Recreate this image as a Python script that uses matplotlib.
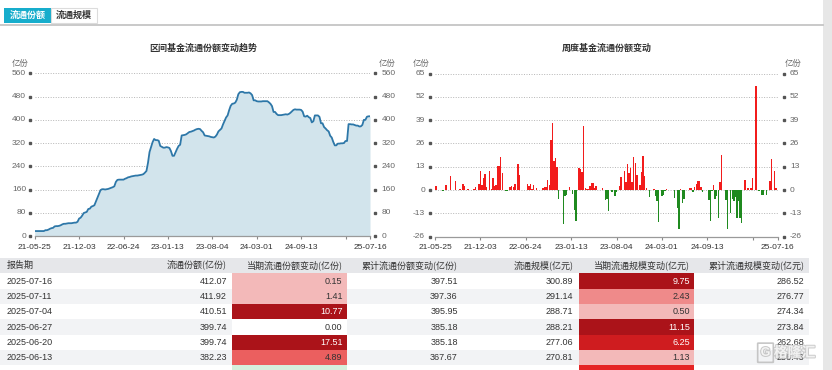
import numpy as np
import matplotlib
matplotlib.use('Agg')
import matplotlib.pyplot as plt
import matplotlib.patheffects as pe
from matplotlib.patches import Rectangle, FancyBboxPatch
from matplotlib.transforms import blended_transform_factory

plt.rcParams['font.family'] = ['Liberation Sans', 'Noto Sans CJK SC', 'DejaVu Sans']

# ---------------- data ----------------
shares = [
    17, 17, 17, 17, 17, 17, 17, 20, 20, 22,
    25, 27, 28, 33, 34, 34, 35, 37, 40, 42,
    42, 43, 44, 44, 44, 45, 46, 46, 49, 60,
    63, 70, 79, 81, 83, 93, 94, 101, 103, 106,
    119, 132, 146, 158, 161, 161, 160, 161, 162, 164,
    166, 168, 171, 186, 193, 194, 194, 194, 194, 197,
    199, 202, 203, 205, 206, 207, 208, 208, 209, 210,
    211, 213, 218, 224, 252, 289, 306, 323, 334, 330,
    330, 328, 310, 307, 304, 304, 306, 305, 303, 292,
    276, 276, 288, 300, 310, 314, 346, 347, 348, 350,
    354, 358, 359, 361, 363, 366, 368, 369, 368, 362,
    357, 346, 345, 344, 343, 341, 340, 339, 342, 349,
    360, 365, 370, 384, 396, 408, 415, 433, 448, 455,
    456, 459, 469, 488, 495, 496, 496, 493, 493, 493,
    494, 491, 485, 467, 467, 464, 463, 463, 463, 464,
    464, 464, 464, 460, 455, 447, 427, 427, 420, 416,
    416, 416, 417, 418, 419, 418, 420, 424, 429, 434,
    436, 435, 435, 435, 434, 428, 412, 411, 414, 409,
    406, 391, 395, 415, 415, 415, 410, 388, 388, 375,
    370, 364, 360, 345, 339, 324, 312, 312, 318, 318,
    319, 319, 320, 327, 327, 385, 385, 384, 384, 382,
    380, 380, 377, 377.34, 382.23, 399.74, 399.74, 410.51, 411.92, 412.07,
]

weekly_change = [
    2.4, 2.4, 0, 0, 0.3, -0.5, 0, 3.0, 0, 0,
    8.0, 0, 0, 5.2, 0, 0, 0.5, 0, 3.4, 2.4,
    0, 0.5, 0, 0, 0, 0.6, 1.5, 0, 3.4, 10.8,
    3.0, 7.0, 9.0, 1.9, 0, 10.8, 0.5, 7.0, 2.0, 3.0,
    13.4, 13.4, 18.7, 9.7, 0, -0.5, -0.5, 0, 1.5, 2.4,
    1.5, 3.4, 0, 14.6, 8.6, 0, 0.3, 0, 0, 3.4,
    2.4, 3.4, 0.6, 2.8, 0, 1.1, 0.3, 0.3, 0, 1.1,
    1.5, 1.9, 5.8, 3.0, 28.0, 37.5, 16.4, 17.7, 13.0, -5.0,
    0.3, 0, -18.7, -3.2, -3.0, 0, 1.5, 0, -2.2, -11.2,
    -17.5, 0, 12.3, 11.8, 9.9, 35.7, 1.1, 0.6, 0.6, 2.4,
    3.9, 3.9, 1.1, 2.4, 0, 0.3, 0, 1.1, 0, -5.6,
    -5.0, -11.6, 0, -1.3, 0, -3.2, -1.0, 0, 2.4, 7.5,
    0, 10.5, 4.7, 14.6, 9.7, 12.3, 4.3, 18.7, 15.3, 8.4,
    0, 3.0, 9.9, 19.2, 7.8, 1.1, 0, -3.7, 0, 0,
    0.5, -3.2, -6.0, -18.0, 0.3, -3.2, -2.6, -0.7, 0.5, 0,
    0.3, 0, 0.3, -4.5, 0, -10.0, -21.8, 0.5, -7.0, -5.0,
    0, 0.3, 0.3, 1.0, 1.0, -1.0, 1.9, 3.4, 4.9, 4.9,
    1.5, -1.0, 0, 0, 0, -5.6, -17.2, -0.7, 2.8, -5.0,
    -3.2, -15.3, 4.3, 19.6, 0, 0.3, -5.6, -21.8, 0.3, -13.0,
    -5.0, -6.3, -3.7, -15.3, -6.0, -15.3, -18.1, 0, 5.8, 0.3,
    1.1, 0, 1.1, 6.7, 0, 57.9, 0.3, -0.5, 0, -2.6,
    -2.6, 0, -2.6, 0.3, 4.89, 17.51, 0.00, 10.77, 1.41, 0.15,
]

date_tick_labels = ['21-05-25', '21-12-03', '22-06-24', '23-01-13', '23-08-04',
                    '24-03-01', '24-09-13', '', '25-07-16']
tick_step = 29

share_yticks = [0, 80, 160, 240, 320, 400, 480, 560]
change_yticks = [-26, -13, 0, 13, 26, 39, 52, 65]

title_left = '区间基金流通份额变动趋势'
title_right = '周度基金流通份额变动'
unit = '亿份'
tabs = ['流通份额', '流通规模']
watermark = '格隆汇'

table_header = ['报告期', '流通份额(亿份)', '当期流通份额变动(亿份)', '累计流通份额变动(亿份)',
                '流通规模(亿元)', '当期流通规模变动(亿元)', '累计流通规模变动(亿元)']
report_dates = ['2025-07-16', '2025-07-11', '2025-07-04', '2025-06-27', '2025-06-20', '2025-06-13']
float_shares = [412.07, 411.92, 410.51, 399.74, 399.74, 382.23]
share_change = [0.15, 1.41, 10.77, 0.00, 17.51, 4.89]
share_cum = [397.51, 397.36, 395.95, 385.18, 385.18, 367.67]
float_scale = [300.89, 291.14, 288.71, 288.21, 277.06, 270.81]
scale_change = [9.75, 2.43, 0.50, 11.15, 6.25, 1.13]
scale_cum = [286.52, 276.77, 274.34, 273.84, 262.68, 256.43]

assert len(shares) == 220 and len(weekly_change) == 220

# ---------------- figure ----------------
W, H = 832, 370
fig = plt.figure(figsize=(W / 100, H / 100), dpi=100)
fig.patch.set_facecolor('white')


def fy(y):
    return 1 - y / H


def add_ax(x0, y0, x1, y1):
    return fig.add_axes([x0 / W, 1 - y1 / H, (x1 - x0) / W, (y1 - y0) / H])


def rect(x0, y0, x1, y1, fc, ec='none', lw=0, z=0):
    fig.patches.append(Rectangle((x0 / W, fy(y1)), (x1 - x0) / W, (y1 - y0) / H,
                                 transform=fig.transFigure, facecolor=fc,
                                 edgecolor=ec, linewidth=lw, zorder=z))


CJK = ['Noto Sans CJK SC', 'DejaVu Sans']
LAT = ['Liberation Sans', 'Noto Sans CJK SC']

# right gray strip
rect(823, 0, 832, 370, '#e7e7e7')

# tabs
rect(4, 8.3, 50.7, 22.7, '#17adcc')
rect(51, 8.3, 97, 22.7, 'white', ec='#dcdcdc', lw=0.8)
fig.text(27.3 / W, fy(15.6), tabs[0], ha='center', va='center', fontsize=6.5,
         color='white', family=CJK, weight='bold')
fig.text(74 / W, fy(15.6), tabs[1], ha='center', va='center', fontsize=6.5,
         color='#333333', family=CJK, weight='bold')
fig.add_artist(plt.Line2D([0, 823 / W], [fy(25.3), fy(25.3)], color='#c9c9c9',
                          lw=1.4, transform=fig.transFigure))

# titles
fig.text(203.7 / W, fy(48.3), title_left, ha='center', va='center', fontsize=6.5,
         color='#333333', family=CJK, weight='bold')
fig.text(607.2 / W, fy(48.3), title_right, ha='center', va='center', fontsize=6.5,
         color='#333333', family=CJK, weight='bold')


def style_axis(ax, yticks, lab_r, mark_l, mark_r, lab_l, unit_l, unit_r, n):
    ax.set_facecolor('none')
    for s in ['left', 'right', 'top']:
        ax.spines[s].set_visible(False)
    ax.spines['bottom'].set_color('#9a9a9a')
    ax.spines['bottom'].set_linewidth(0.9)
    ax.spines['bottom'].set_zorder(5)
    ax.set_yticks([])
    for v in yticks:
        ax.axhline(v, color='#b5b5b5', lw=0.7, ls=(0, (1, 1.6)), zorder=0.5)
    trans = blended_transform_factory(fig.transFigure, ax.transData)
    for v in yticks:
        ax.text(lab_r / W, v, str(v), transform=trans, ha='right', va='center',
                fontsize=6, color='#666666')
        ax.text(lab_l / W, v, str(v), transform=trans, ha='left', va='center',
                fontsize=6, color='#666666')
    ax.plot([mark_l / W] * len(yticks), yticks, 's', transform=trans, ms=1.7,
            color='#555555', clip_on=False)
    ax.plot([mark_r / W] * len(yticks), yticks, 's', transform=trans, ms=1.7,
            color='#555555', clip_on=False)
    fig.text(unit_l / W, fy(63.3), unit, ha='center', va='center', fontsize=6,
             color='#666666', family=CJK)
    fig.text(unit_r / W, fy(63.3), unit, ha='center', va='center', fontsize=6,
             color='#666666', family=CJK)
    pos = list(range(0, n, tick_step)) + [n - 1]
    ax.set_xticks(pos)
    ax.set_xticklabels(date_tick_labels)
    ax.tick_params(axis='x', length=2.5, width=0.8, color='#888888', pad=3,
                   labelsize=6, labelcolor='#333333')
    ax.set_xlim(0, n - 1)
    ax.set_ylim(yticks[0], yticks[-1])


# left chart
ax1 = add_ax(34.7, 73.3, 370, 236)
x1 = np.arange(len(shares))
ax1.fill_between(x1, shares, 0, color='#d2e4ec', lw=0, zorder=1)
ax1.plot(x1, shares, color='#2d77a8', lw=1.3, zorder=3)
style_axis(ax1, share_yticks, 26, 30.3, 375, 381.5, 20, 386.7, len(shares))

# right chart
ax2 = add_ax(435, 73.5, 777.7, 236.7)
x2 = np.arange(len(weekly_change))
wc = np.array(weekly_change)
cols = np.where(wc >= 0, '#f21c1c', '#1f8a1f')
ax2.bar(x2, wc, width=0.92, color=cols, lw=0, zorder=2)
style_axis(ax2, change_yticks, 425, 430, 784, 790, 421.5, 793.3, len(weekly_change))

# ---------------- table ----------------
rect(0, 257.5, 809, 273.3, '#e6e7ea')
row_h = 15.3
row_top = 273.3
for i in range(7):
    y0 = row_top + i * row_h
    if i % 2 == 1:
        rect(0, y0, 809, min(y0 + row_h, 370), '#f2f3f5')


def heat(v):
    if v <= 0.001:
        return 'white'
    if v < 2:
        return '#f3b9b9'
    if v < 3:
        return '#ef8a8a'
    if v < 6:
        return '#eb5f5f'
    if v < 9:
        return '#cf1c1f'
    return '#ab1319'


col_x = [7, 227, 342.5, 457.7, 573.3, 690, 804.3]
col_ha = ['left'] + ['right'] * 6
hy = 265.3
for j, h in enumerate(table_header):
    fig.text(col_x[j] / W, fy(hy), h, ha=col_ha[j], va='center', fontsize=6.5,
             color='#333333', family=CJK, weight='medium')

for i in range(len(report_dates)):
    yc = row_top + i * row_h + row_h / 2
    y0 = row_top + i * row_h
    c3 = heat(share_change[i])
    c6 = heat(scale_change[i])
    rect(232, y0, 347.3, y0 + row_h, c3, z=0.1)
    rect(579.3, y0, 694, y0 + row_h, c6, z=0.1)
    vals = [report_dates[i], f'{float_shares[i]:.2f}', f'{share_change[i]:.2f}',
            f'{share_cum[i]:.2f}', f'{float_scale[i]:.2f}', f'{scale_change[i]:.2f}',
            f'{scale_cum[i]:.2f}']
    for j, t in enumerate(vals):
        col = '#333333'
        if j == 2 and c3 in ('#ab1319', '#cf1c1f'):
            col = 'white'
        if j == 5 and c6 in ('#ab1319', '#cf1c1f'):
            col = 'white'
        fig.text(col_x[j] / W, fy(yc + 0.3), t, ha=col_ha[j], va='center',
                 fontsize=6.5, color=col, family=LAT)

# partially visible next row
y0 = row_top + 6 * row_h
rect(232, y0, 347.3, 370, '#d5f0dc', z=0.1)
rect(579.3, y0, 694, 370, '#e52424', z=0.1)

# watermark (outlined, translucent)
stroke = [pe.withStroke(linewidth=1.5, foreground='#bdbdbd')]
fig.patches.append(FancyBboxPatch((758.5 / W, fy(362)), 14 / W, 18.5 / H,
                                  boxstyle='round,pad=0.001', transform=fig.transFigure,
                                  facecolor='none', edgecolor='#bdbdbd', lw=1.2,
                                  alpha=0.85, zorder=3))
fig.text(765.5 / W, fy(352.8), 'G', ha='center', va='center', fontsize=9,
         color='white', weight='bold', alpha=0.8, family=LAT, path_effects=stroke,
         zorder=4)
fig.text(794.5 / W, fy(352.8), watermark, ha='center', va='center', fontsize=10,
         color='white', weight='bold', alpha=0.75, family=CJK, path_effects=stroke,
         zorder=4)

fig.savefig('out.png', dpi=100)
